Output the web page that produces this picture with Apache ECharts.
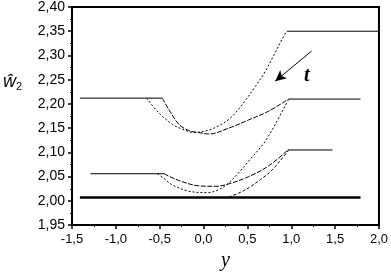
<!DOCTYPE html>
<html>
<head>
<meta charset="utf-8">
<script src="https://cdn.jsdelivr.net/npm/echarts@6/dist/echarts.min.js"></script>
<style>html,body{margin:0;padding:0;background:#fff}#c{width:391px;height:276px}</style>
</head>
<body>
<div id="c"></div>
<script>
// ---- data ----
const xRange = [-1.5, 2.0];
const yRange = [1.95, 2.40];
const baseLine = [[-1.41, 2.007], [1.79, 2.007]];
const upperLeftPlateau = [[-1.41, 2.212], [-0.47, 2.212]];
const upperRightPlateau = [[0.97, 2.210], [1.79, 2.210]];
const topPlateau = [[0.95, 2.350], [2.0, 2.350]];
const lowerLeftPlateau = [[-1.29, 2.056], [-0.45, 2.056]];
const lowerRightPlateau = [[0.96, 2.105], [1.47, 2.105]];
const curveU1 = [[-0.65, 2.212], [-0.507, 2.181], [-0.356, 2.158], [-0.243, 2.148], [-0.11, 2.141], [0.06, 2.146], [0.173, 2.155], [0.287, 2.168], [0.38, 2.185], [0.476, 2.207], [0.59, 2.236], [0.70, 2.266], [0.80, 2.300], [0.89, 2.332], [0.948, 2.350]];
const curveU2 = [[-0.47, 2.212], [-0.394, 2.188], [-0.281, 2.158], [-0.167, 2.145], [-0.054, 2.141], [0.06, 2.138], [0.287, 2.150], [0.514, 2.167], [0.741, 2.185], [0.968, 2.210]];
const curveL1 = [[-0.526, 2.056], [-0.45, 2.046], [-0.356, 2.033], [-0.167, 2.020], [0.04, 2.017], [0.173, 2.023], [0.287, 2.037], [0.40, 2.058], [0.514, 2.082], [0.684, 2.118], [0.741, 2.134], [0.817, 2.158], [0.968, 2.209]];
const curveL2 = [[-0.451, 2.056], [-0.281, 2.042], [-0.053, 2.031], [0.136, 2.030], [0.287, 2.035], [0.514, 2.050], [0.741, 2.072], [0.968, 2.106]];
const curveL3 = [[0.287, 2.008], [0.40, 2.016], [0.514, 2.027], [0.65, 2.044], [0.778, 2.063], [0.87, 2.082], [0.968, 2.104]];
const arrowFrom = [1.232, 2.309];
const arrowTo = [0.817, 2.247];

const chart = echarts.init(document.getElementById('c'), null, {renderer: 'canvas'});
const black = '#000';
function flat(data, w) {
  return {type: 'line', data: data, symbol: 'none', silent: true,
    lineStyle: {color: black, width: w || 1}};
}
function curve(data, dash) {
  return {type: 'line', data: data, symbol: 'none', silent: true, smooth: 0.35,
    lineStyle: {color: black, width: 1, type: dash}};
}
const axisText = {color: black, fontFamily: 'Liberation Sans, Arial, sans-serif', fontSize: 13};
const option = {
  animation: false,
  backgroundColor: '#fff',
  grid: {left: 72, right: 10, top: 5, bottom: 42, show: true, borderColor: black, borderWidth: 2, backgroundColor: 'transparent'},
  xAxis: {
    type: 'value', min: xRange[0], max: xRange[1], interval: 0.5,
    axisLine: {show: true, onZero: false, lineStyle: {color: black, width: 2}},
    axisTick: {show: true, inside: false, length: 4, lineStyle: {color: black, width: 1.5}},
    minorTick: {show: true, splitNumber: 2, length: 2, lineStyle: {color: black, width: 1}},
    splitLine: {show: false},
    axisLabel: Object.assign({margin: 8, formatter: v => v.toFixed(1).replace('.', ',')}, axisText),
    name: 'y', nameLocation: 'middle', nameGap: 20,
    nameTextStyle: {fontFamily: 'Liberation Serif, Times New Roman, serif', fontStyle: 'italic', fontSize: 20, color: black}
  },
  yAxis: {
    type: 'value', min: yRange[0], max: yRange[1], interval: 0.05,
    axisLine: {show: true, onZero: false, lineStyle: {color: black, width: 2}},
    axisTick: {show: true, inside: false, length: 4, lineStyle: {color: black, width: 1.5}},
    minorTick: {show: true, splitNumber: 2, length: 2, lineStyle: {color: black, width: 1}},
    splitLine: {show: false},
    axisLabel: Object.assign({margin: 7, formatter: v => v.toFixed(2).replace('.', ',')}, axisText, {fontSize: 14})
  },
  series: [
    flat(baseLine, 2.5),
    flat(upperLeftPlateau),
    flat(upperRightPlateau),
    flat(topPlateau),
    flat(lowerLeftPlateau),
    flat(lowerRightPlateau),
    curve(curveU1, [2, 2]),
    curve(curveU2, [5, 1.5]),
    curve(curveL1, [2, 2]),
    curve(curveL2, [5, 1.5]),
    Object.assign(curve(curveL3, [3, 2]), {
      markLine: {
        silent: true, symbol: ['none', 'arrow'], symbolSize: [8, 11],
        label: {show: false},
        lineStyle: {color: black, width: 1, type: 'solid'},
        data: [[{coord: arrowFrom}, {coord: arrowTo}]]
      }
    })
  ],
  graphic: [
    {type: 'text', left: 3, top: 73, style: {
      text: '{a|ŵ}{b|2}',
      rich: {
        a: {fontFamily: 'Liberation Sans, Arial, sans-serif', fontStyle: 'italic', fontSize: 18, fill: black},
        b: {fontFamily: 'Liberation Sans, Arial, sans-serif', fontSize: 11, fill: black, padding: [10, 0, 0, 0]}
      }}},
    {type: 'text', left: 304, top: 66, style: {
      text: 't', fontFamily: 'Liberation Serif, Times New Roman, serif', fontStyle: 'italic', fontWeight: 'bold', fontSize: 20, fill: black}}
  ]
};
chart.setOption(option);
</script>
</body>
</html>
